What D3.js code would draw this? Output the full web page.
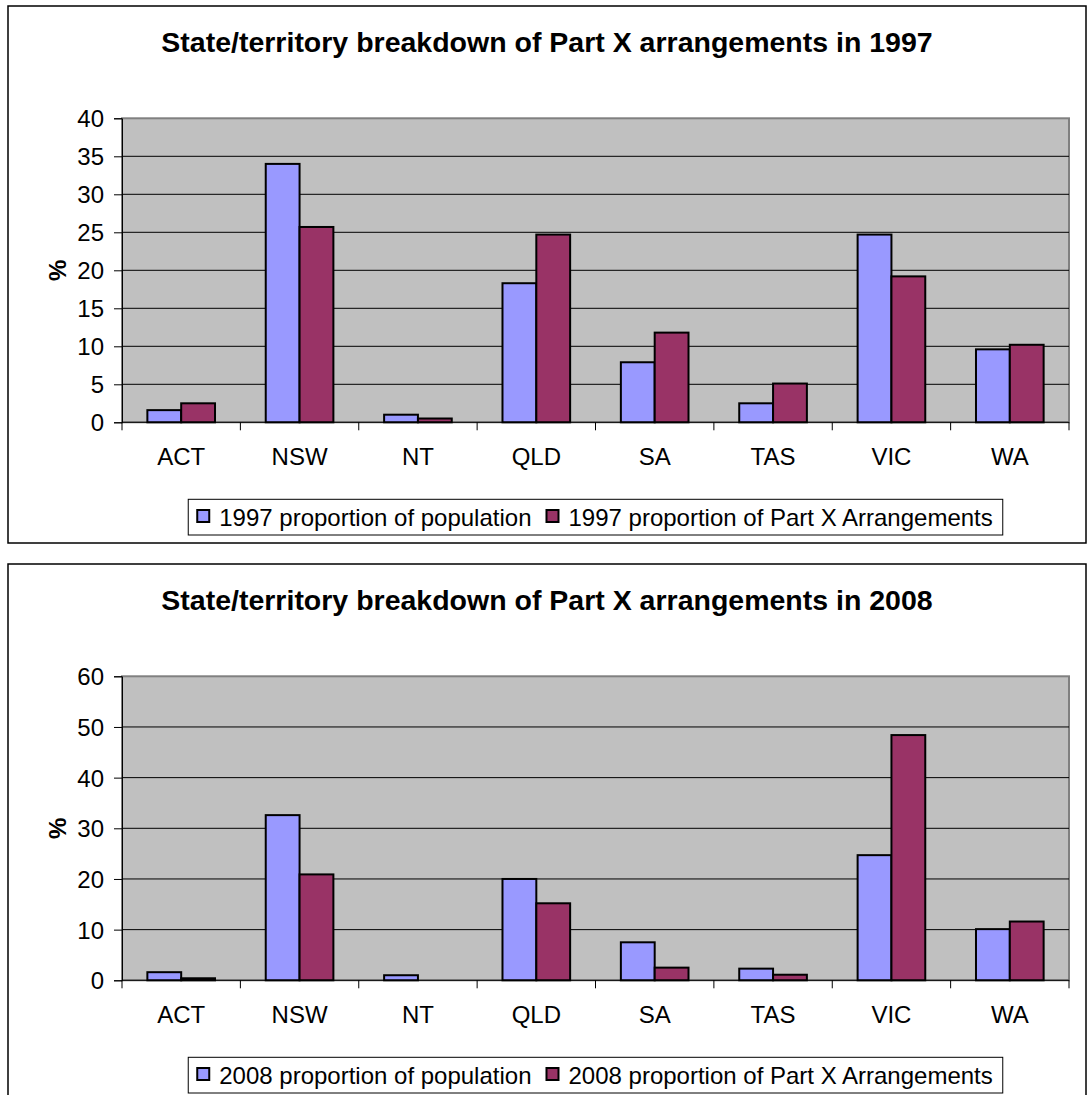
<!DOCTYPE html>
<html lang="en">
<head>
  <meta charset="utf-8" />
  <script src="https://d3js.org/d3.v7.min.js"></script>
  <style>
    body { margin: 0; background: #fff; }
    text { font-family: "Liberation Sans", Arial, sans-serif; fill: #000; }
  </style>
</head>
<body>
<script>
  // chart values
  const states = ["ACT", "NSW", "NT", "QLD", "SA", "TAS", "VIC", "WA"];

  const pop1997 = [1.6, 34.0, 1.0, 18.3, 7.9, 2.5, 24.7, 9.6];
  const partX1997 = [2.5, 25.7, 0.5, 24.7, 11.8, 5.1, 19.2, 10.2];

  const pop2008 = [1.6, 32.6, 1.0, 20.0, 7.5, 2.3, 24.7, 10.1];
  const partX2008 = [0.4, 20.9, 0, 15.2, 2.5, 1.1, 48.4, 11.6];

  const ticks1997 = [0, 5, 10, 15, 20, 25, 30, 35, 40];
  const ticks2008 = [0, 10, 20, 30, 40, 50, 60];

  const seriesNames = ["population", "partx"];
  const colors = { population: "#9999FF", partx: "#993366" };

  var svg = d3.select("body")
    .append("svg")
    .attr("width", 1088)
    .attr("height", 1095);

  // draws one chart block; oy = vertical offset of the block
  function drawChart(oy, year, popVals, partVals, yTicks, boxH) {
    var g = svg.append("g").attr("transform", "translate(0," + oy + ")");

    var left = 122, right = 1069, top = 118.3, bottom = 422.3;

    // outer chart border
    g.append("rect")
      .attr("x", 8).attr("y", 6)
      .attr("width", 1078).attr("height", boxH)
      .attr("fill", "#fff")
      .attr("stroke", "#000")
      .attr("stroke-width", 1.5);

    g.append("text")
      .attr("x", 547).attr("y", 51.7)
      .attr("text-anchor", "middle")
      .style("font-size", "28.5px")
      .style("font-weight", "bold")
      .text("State/territory breakdown of Part X arrangements in " + year);

    var x0 = d3.scaleBand().domain(states).range([left, right]).padding(0);
    var x1 = d3.scaleBand().domain(seriesNames)
      .range([0, x0.bandwidth()])
      .paddingInner(0).paddingOuter(0.75);
    var y = d3.scaleLinear()
      .domain([0, yTicks[yTicks.length - 1]])
      .range([bottom, top]);

    // plot area
    g.append("rect")
      .attr("x", left).attr("y", top)
      .attr("width", right - left).attr("height", bottom - top)
      .attr("fill", "#C0C0C0")
      .attr("stroke", "#808080")
      .attr("stroke-width", 2);

    // gridlines
    g.selectAll(".grid")
      .data(yTicks.filter(function (d) { return d > 0 && d < yTicks[yTicks.length - 1]; }))
      .join("line")
      .attr("x1", left).attr("x2", right)
      .attr("y1", function (d) { return y(d); })
      .attr("y2", function (d) { return y(d); })
      .attr("stroke", "#000")
      .attr("stroke-width", 1);

    // bars
    var rows = states.map(function (s, i) {
      return { state: s, population: popVals[i], partx: partVals[i] };
    });
    g.append("g").selectAll("g")
      .data(rows)
      .join("g")
      .attr("transform", function (d) { return "translate(" + x0(d.state) + ",0)"; })
      .selectAll("rect")
      .data(function (d) {
        return seriesNames.map(function (k) { return { key: k, value: d[k] }; })
          .filter(function (d) { return d.value > 0; });
      })
      .join("rect")
      .attr("x", function (d) { return x1(d.key); })
      .attr("width", x1.bandwidth())
      .attr("y", function (d) { return y(d.value); })
      .attr("height", function (d) { return bottom - y(d.value); })
      .attr("fill", function (d) { return colors[d.key]; })
      .attr("stroke", "#000")
      .attr("stroke-width", 2);

    // y axis
    var yAxis = d3.axisLeft(y).tickValues(yTicks).tickSize(8).tickPadding(10);
    var ya = g.append("g")
      .attr("transform", "translate(" + left + ",0)")
      .call(yAxis);
    ya.select(".domain").attr("stroke", "#000").attr("stroke-width", 1);
    ya.selectAll("line").attr("stroke", "#000");
    ya.selectAll("text")
      .style("font-size", "24px")
      .style("font-family", "'Liberation Sans', Arial, sans-serif")
      .attr("dy", "0.36em");

    // x axis: baseline, ticks at category boundaries
    g.append("line")
      .attr("x1", left).attr("x2", right)
      .attr("y1", bottom).attr("y2", bottom)
      .attr("stroke", "#000");
    var bounds = states.map(function (s) { return x0(s); }).concat([right]);
    g.selectAll(".xtick")
      .data(bounds)
      .join("line")
      .attr("x1", function (d) { return d; })
      .attr("x2", function (d) { return d; })
      .attr("y1", bottom).attr("y2", bottom + 8)
      .attr("stroke", "#000");
    g.selectAll(".xlab")
      .data(states)
      .join("text")
      .attr("x", function (d) { return x0(d) + x0.bandwidth() / 2; })
      .attr("y", 465)
      .attr("text-anchor", "middle")
      .style("font-size", "24px")
      .text(function (d) { return d; });

    // y axis title
    g.append("text")
      .attr("transform", "translate(66," + ((top + bottom) / 2) + ") rotate(-90)")
      .attr("text-anchor", "middle")
      .style("font-size", "24px")
      .style("font-weight", "bold")
      .text("%");

    // legend
    var labels = [year + " proportion of population", year + " proportion of Part X Arrangements"];
    var lg = g.append("g");
    var lbox = lg.append("rect")
      .attr("y", 499.3).attr("height", 35.7)
      .attr("fill", "#fff")
      .attr("stroke", "#000")
      .attr("stroke-width", 1);
    var cx = 0;
    var items = [];
    labels.forEach(function (lab, i) {
      var m = lg.append("rect")
        .attr("x", cx + 9).attr("y", 510)
        .attr("width", 12).attr("height", 12)
        .attr("fill", colors[seriesNames[i]])
        .attr("stroke", "#000")
        .attr("stroke-width", 2);
      var t = lg.append("text")
        .attr("x", cx + 31).attr("y", 526)
        .style("font-size", "24px")
        .text(lab);
      cx = cx + 31 + t.node().getComputedTextLength() + 6;
    });
    var lw = cx + 4;
    var lx = (left + right) / 2 - lw / 2;
    lbox.attr("x", 0).attr("width", lw);
    lg.attr("transform", "translate(" + lx + ",0)");
  }

  drawChart(0, "1997", pop1997, partX1997, ticks1997, 537);
  drawChart(558, "2008", pop2008, partX2008, ticks2008, 560);
</script>
</body>
</html>
